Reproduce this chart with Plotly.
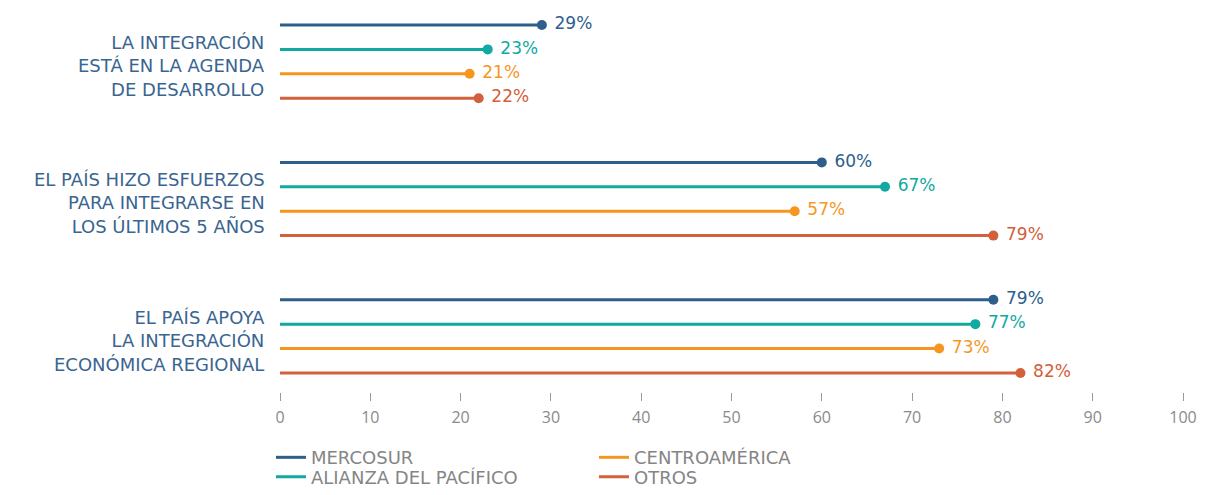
import plotly.graph_objects as go

groups = ["LA INTEGRACIÓN<br>ESTÁ EN LA AGENDA<br>DE DESARROLLO",
          "EL PAÍS HIZO ESFUERZOS<br>PARA INTEGRARSE EN<br>LOS ÚLTIMOS 5 AÑOS",
          "EL PAÍS APOYA<br>LA INTEGRACIÓN<br>ECONÓMICA REGIONAL"]
series_names = ["MERCOSUR", "ALIANZA DEL PACÍFICO", "CENTROAMÉRICA", "OTROS"]
mercosur = [29, 60, 79]
alianza = [23, 67, 77]
centro = [21, 57, 73]
otros = [22, 79, 82]
x_ticks = [0, 10, 20, 30, 40, 50, 60, 70, 80, 90, 100]

values = [mercosur, alianza, centro, otros]
colors = ["#2D5E8C", "#11A9A1", "#F7961F", "#D2603A"]
legend_ids = ["legend", "legend2", "legend", "legend2"]
GAP = 5.63
FONT = "DejaVu Sans"

fig = go.Figure()
for j, (name, vals, col) in enumerate(zip(series_names, values, colors)):
    ys = [i * GAP + j for i in range(len(groups))]
    lx, ly = [], []
    for v, y in zip(vals, ys):
        lx += [0, v, None]
        ly += [y, y, None]
    fig.add_trace(go.Scatter(x=lx, y=ly, mode="lines", name=name,
                             line=dict(color=col, width=3), legend=legend_ids[j],
                             hoverinfo="skip"))
    fig.add_trace(go.Scatter(x=vals, y=ys, mode="markers+text", showlegend=False,
                             marker=dict(color=col, size=10),
                             text=[f"\u00a0{v}%" for v in vals], textposition="middle right",
                             textfont=dict(color=col, size=17, family=FONT),
                             cliponaxis=False))

for i, g in enumerate(groups):
    fig.add_annotation(x=0, xref="paper", y=i * GAP + 1.67, yref="y", text=g,
                       xanchor="right", yanchor="middle", align="right", xshift=-13,
                       showarrow=False, font=dict(color="#3A6591", size=18, family=FONT))

leg_common = dict(orientation="h", x=-0.01, xanchor="left", yanchor="top",
                  entrywidth=278, entrywidthmode="pixels", bgcolor="rgba(0,0,0,0)",
                  font=dict(color="#858585", size=18, family=FONT))
fig.update_layout(
    width=1190, height=479,
    margin=dict(l=272, r=15, t=10, b=95, autoexpand=False),
    paper_bgcolor="white", plot_bgcolor="white",
    xaxis=dict(range=[0, 100], tickvals=x_ticks, showgrid=False, zeroline=False,
               showline=False, ticks="outside", ticklen=8, tickcolor="#999999",
               tickwidth=1, ticklabelstandoff=3,
               tickfont=dict(color="#8A8A8A", size=16, family="Open Sans")),
    yaxis=dict(range=[15.04, -0.287], showticklabels=False, showgrid=False,
               zeroline=False, showline=False),
    legend=dict(y=-0.126, **leg_common),
    legend2=dict(y=-0.178, **leg_common),
    showlegend=True,
)
fig.write_html("out.html")
